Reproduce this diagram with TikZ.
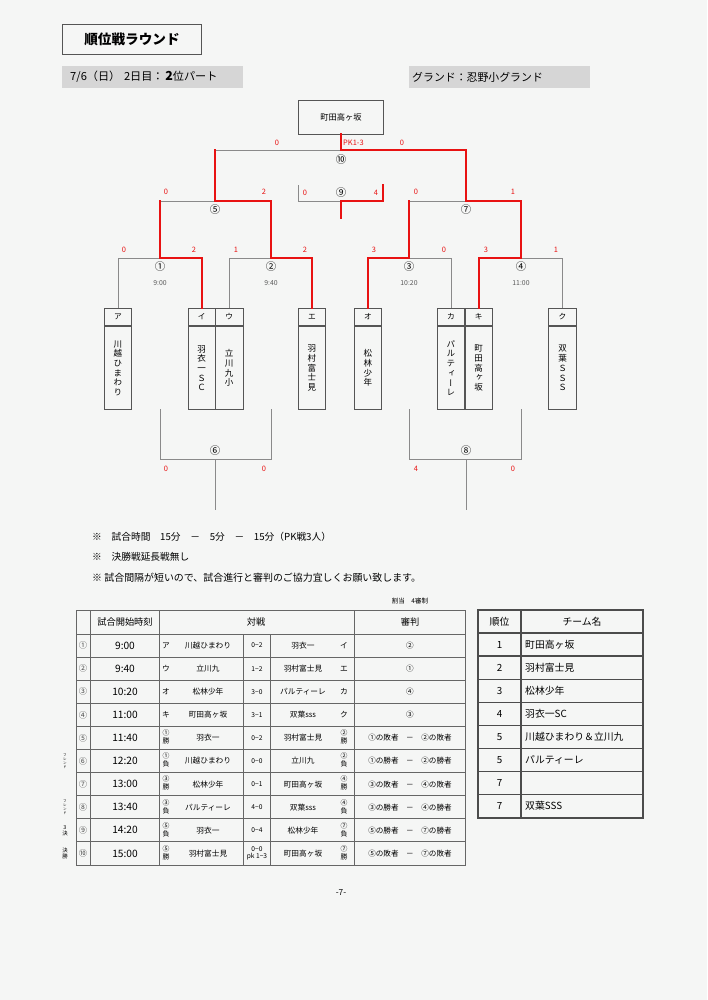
\documentclass[tikz,border=0pt]{standalone}
\usepackage{fontspec}
\setmainfont{Noto Sans CJK JP}
\newfontfamily\vjp[RawFeature=+vert]{Noto Sans CJK JP}
\usetikzlibrary{positioning}
\definecolor{paper}{RGB}{245,246,245}
\definecolor{bandgrey}{RGB}{214,214,214}
\definecolor{winred}{RGB}{232,18,18}
\definecolor{losegrey}{RGB}{138,138,138}
\definecolor{inkgrey}{RGB}{85,85,85}
\newcommand{\fs}[1]{\fontsize{#1}{#1}\selectfont}
\newcommand{\mk}[2]{{\fontsize{5.8}{6.4}\selectfont\begin{tabular}{@{}c@{}}#1\\#2\end{tabular}}}
\tikzset{
  loseline/.style={draw=losegrey,line width=0.8pt},
  winline/.style={draw=winred,line width=1.5pt,line cap=rect},
  scorelbl/.style={text=winred,inner sep=0,font=\fs{6.3}},
  matchno/.style={inner sep=0,font=\fs{8.8}},
  timelbl/.style={inner sep=0,text=black!65,font=\fs{5.8}},
  teamhead/.style={draw=inkgrey,line width=0.7pt,minimum width=23.2pt,minimum height=14.7pt,inner sep=0,font=\fs{6.5}},
  teambody/.style={draw=inkgrey,line width=0.7pt,minimum width=23.2pt,minimum height=70.4pt,inner sep=0,align=center,font=\vjp\fontsize{7.2}{8.2}\selectfont},
  cellline/.style={draw=black!60,line width=0.75pt},
  rankline/.style={draw=black!70,line width=1.1pt},
  celltxt/.style={inner sep=0,font=\fs{6.5}},
}
\begin{document}
\begin{tikzpicture}[x=0.297mm,y=-0.297mm]
\fill[paper] (0,0) rectangle (707,1000);
\useasboundingbox (0,0) rectangle (707,1000);

\node[draw=inkgrey,line width=0.7pt,minimum width=118pt,minimum height=25.3pt,font=\bfseries\fs{11.5}] (title) at (132,39) {順位戦ラウンド};
\fill[bandgrey] (62,66) rectangle (243,88);
\fill[bandgrey] (409,66) rectangle (590,88);
\node[anchor=west,inner sep=0,font=\fs{9.4}] (day) at (70,77) {7/6（日）\,\,2日目：\,{\bfseries\fs{10.5}2}位パート};
\node[anchor=west,inner sep=0,font=\fs{9.2}] (ground) at (412,77) {グランド：忍野小グランド};

\node[draw=inkgrey,line width=0.7pt,minimum width=72.5pt,minimum height=28.6pt,font=\fs{7}] (champ) at (341,117) {町田高ヶ坂};

\foreach \nm/\xx/\lt/\tx in {a/118/ア/{川\\越\\ひ\\ま\\わ\\り}, b/201.75/イ/{羽\\衣\\一\\Ｓ\\Ｃ},
  c/229.25/ウ/{立\\川\\九\\小}, d/312/エ/{羽\\村\\富\\士\\見}, e/368/オ/{松\\林\\少\\年},
  f/451/カ/{パ\\ル\\テ\\ィ\\ー\\レ}, g/478.75/キ/{町\\田\\高\\ヶ\\坂}, h/562.5/ク/{双\\葉\\Ｓ\\Ｓ\\Ｓ}}{
  \node[teamhead] (t\nm) at (\xx,317) {\lt};
  \node[teambody,below=0pt of t\nm] (n\nm) {\tx};
}

\coordinate (m1) at (160,258);
\coordinate (m2) at (271,258);
\coordinate (m3) at (409,258);
\coordinate (m4) at (521,258);
\coordinate (m5) at (215,201);
\coordinate (m7) at (466,201);
\coordinate (m9) at (341,201);
\coordinate (f10) at (341,150);
\coordinate (m6) at (215,459);
\coordinate (m8) at (466,459);
\coordinate (c9a) at (298,185);
\coordinate (c9b) at (383,185);
\coordinate (c9c) at (341,218);
\coordinate (c6a) at (160,409);
\coordinate (c6b) at (271,409);
\coordinate (c6c) at (215,510);
\coordinate (c8a) at (409,409);
\coordinate (c8b) at (521,409);
\coordinate (c8c) at (466,510);

\draw[loseline] (m1) -| (ta.north);
\draw[loseline] (m2) -| (tc.north);
\draw[loseline] (m3) -| (tf.north);
\draw[loseline] (m4) -| (th.north);
\draw[loseline] (m5) -| (m1);
\draw[loseline] (m7) -| (m3);
\draw[loseline] (f10) -| (m5);
\draw[loseline] (m9) -| (c9a);
\draw[loseline] (m6) -| (c6a);
\draw[loseline] (m6) -| (c6b);
\draw[loseline] (m6) -- (c6c);
\draw[loseline] (m8) -| (c8a);
\draw[loseline] (m8) -| (c8b);
\draw[loseline] (m8) -- (c8c);

\draw[winline] (m1) -| (tb.north);
\draw[winline] (m2) -| (td.north);
\draw[winline] (m3) -| (te.north);
\draw[winline] (m4) -| (tg.north);
\draw[winline] (m1) -- (m1 |- m5);
\draw[winline] (m5) -| (m2);
\draw[winline] (m3) -- (m3 |- m7);
\draw[winline] (m7) -| (m4);
\draw[winline] (m5) -- (m5 |- f10);
\draw[winline] (f10) -| (m7);
\draw[winline] (champ.south) -- (f10);
\draw[winline] (m9) -| (c9b);
\draw[winline] (m9) -- (c9c);

\foreach \nm/\xx/\yy/\lb in {1/160/267/①, 2/271/267/②, 3/409/267/③, 4/521/267/④, 5/215/210/⑤,
  7/466/210/⑦, 10/341/160/⑩, 9/341/193/⑨, 6/215/451/⑥, 8/466/451/⑧}
  \node[matchno] (no\nm) at (\xx,\yy) {\lb};
\node[timelbl,below=4mm of no1.center] (tm1) {9:00};
\node[timelbl,below=4mm of no2.center] (tm2) {9:40};
\node[timelbl,below=4mm of no3.center] (tm3) {10:20};
\node[timelbl,below=4mm of no4.center] (tm4) {11:00};

\foreach \xx/\yy/\s [count=\i] in {124/250/0, 194/250/2, 236/250/1, 305/250/2, 374/250/3, 444/250/0,
  486/250/3, 556/250/1, 166/192/0, 264/192/2, 416/192/0, 513/192/1, 277/143/0, 402/143/0,
  305/193/0, 376/193/4, 166/469/0, 264/469/0, 416/469/4, 513/469/0}
  \node[scorelbl] (sc\i) at (\xx,\yy) {\s};
\node[scorelbl,anchor=west] (pk) at (343,143) {PK1-3};

\node[anchor=west,inner sep=0,font=\fs{8.2}] (note1) at (92,537) {※　試合時間　15分　－　5分　－　15分（PK戦3人）};
\node[anchor=west,inner sep=0,font=\fs{8.2}] (note2) at (92,557) {※　決勝戦延長戦無し};
\node[anchor=west,inner sep=0,font=\fs{8.4}] (note3) at (92,578) {※ 試合間隔が短いので、試合進行と審判のご協力宜しくお願い致します。};
\node[inner sep=0,font=\fs{5.5}] (wari) at (410,601) {割当　4審制};

\draw[cellline] (76,610) rectangle (465,865);
\foreach \k in {0,...,9}
  \draw[cellline] (76,{634+23.1*\k}) -- (465,{634+23.1*\k});
\foreach \x in {90,159,354}
  \draw[cellline] (\x,610) -- (\x,865);
\foreach \x in {243,270}
  \draw[cellline] (\x,634) -- (\x,865);
\node[inner sep=0,font=\fs{7.8}] (hd1) at (125,622) {試合開始時刻};
\node[inner sep=0,font=\fs{7.8}] (hd2) at (256,622) {対戦};
\node[inner sep=0,font=\fs{7.8}] (hd3) at (410,622) {審判};

\foreach \k/\c/\t/\la/\na/\sc/\nb/\lb/\rf in {
  1/①/9:00/ア/川越ひまわり/0−2/羽衣一/イ/②,
  2/②/9:40/ウ/立川九/1−2/羽村富士見/エ/①,
  3/③/10:20/オ/松林少年/3−0/パルティーレ/カ/④,
  4/④/11:00/キ/町田高ヶ坂/3−1/双葉sss/ク/③,
  5/⑤/11:40/{\mk{①}{勝}}/羽衣一/0−2/羽村富士見/{\mk{②}{勝}}/①の敗者　－　②の敗者,
  6/⑥/12:20/{\mk{①}{負}}/川越ひまわり/0−0/立川九/{\mk{②}{負}}/①の勝者　－　②の勝者,
  7/⑦/13:00/{\mk{③}{勝}}/松林少年/0−1/町田高ヶ坂/{\mk{④}{勝}}/③の敗者　－　④の敗者,
  8/⑧/13:40/{\mk{③}{負}}/パルティーレ/4−0/双葉sss/{\mk{④}{負}}/③の勝者　－　④の勝者,
  9/⑨/14:20/{\mk{⑤}{負}}/羽衣一/0−4/松林少年/{\mk{⑦}{負}}/⑤の勝者　－　⑦の勝者,
  10/⑩/15:00/{\mk{⑤}{勝}}/羽村富士見/{0−0\\pk 1−3}/町田高ヶ坂/{\mk{⑦}{勝}}/⑤の敗者　－　⑦の敗者}{
  \pgfmathsetmacro\yy{634+23.1*(\k-0.5)}
  \node[celltxt,text=black!70,font=\fs{7}] (rc\k) at (83,\yy) {\c};
  \node[celltxt,font=\fs{8.6}] (rt\k) at (125,\yy) {\t};
  \node[celltxt] (ra\k) at (166,\yy) {\la};
  \node[celltxt] (rn\k) at (208,\yy) {\na};
  \node[celltxt,align=center,font=\fontsize{5.6}{6}\selectfont] (rs\k) at (257,\yy) {\sc};
  \node[celltxt] (rm\k) at (303,\yy) {\nb};
  \node[celltxt] (rb\k) at (344,\yy) {\lb};
  \node[celltxt,font=\fs{6.4}] (rr\k) at (410,\yy) {\rf};
}
\node[inner sep=0,align=center,font=\vjp\fontsize{3}{3.3}\selectfont] (fr6) at (65,{634+23.1*5.5}) {フ\\レ\\ン\\ド};
\node[inner sep=0,align=center,font=\vjp\fontsize{3}{3.3}\selectfont] (fr8) at (65,{634+23.1*7.5}) {フ\\レ\\ン\\ド};
\node[inner sep=0,align=center,font=\fontsize{4.6}{5}\selectfont] (th9) at (65,{634+23.1*8.5}) {3\\決};
\node[inner sep=0,align=center,font=\fontsize{4.6}{5}\selectfont] (fi10) at (65,{634+23.1*9.5}) {決\\勝};

\draw[rankline] (478,610) rectangle (643,818);
\foreach \k in {0,...,7}
  \draw[rankline] (478,{633+23.1*\k}) -- (643,{633+23.1*\k});
\draw[rankline] (521,610) -- (521,818);
\node[inner sep=0,font=\fs{8.3}] (rkh) at (499.5,621.5) {順位};
\node[inner sep=0,font=\fs{8.3}] (tmh) at (582,621.5) {チーム名};
\foreach \k/\p/\n in {1/1/町田高ヶ坂, 2/2/羽村富士見, 3/3/松林少年, 4/4/羽衣一SC,
  5/5/川越ひまわり＆立川九, 6/5/パルティーレ, 7/7/{}, 8/7/双葉SSS}{
  \pgfmathsetmacro\yy{633+23.1*(\k-0.5)}
  \node[inner sep=0,font=\fs{8.3}] (rk\k) at (499.5,\yy) {\p};
  \node[inner sep=0,anchor=west,font=\fs{8.3}] (tn\k) at (525,\yy) {\n};
}

\node[inner sep=0,font=\fs{7}] (page) at (341,893) {-7-};
\end{tikzpicture}
\end{document}
